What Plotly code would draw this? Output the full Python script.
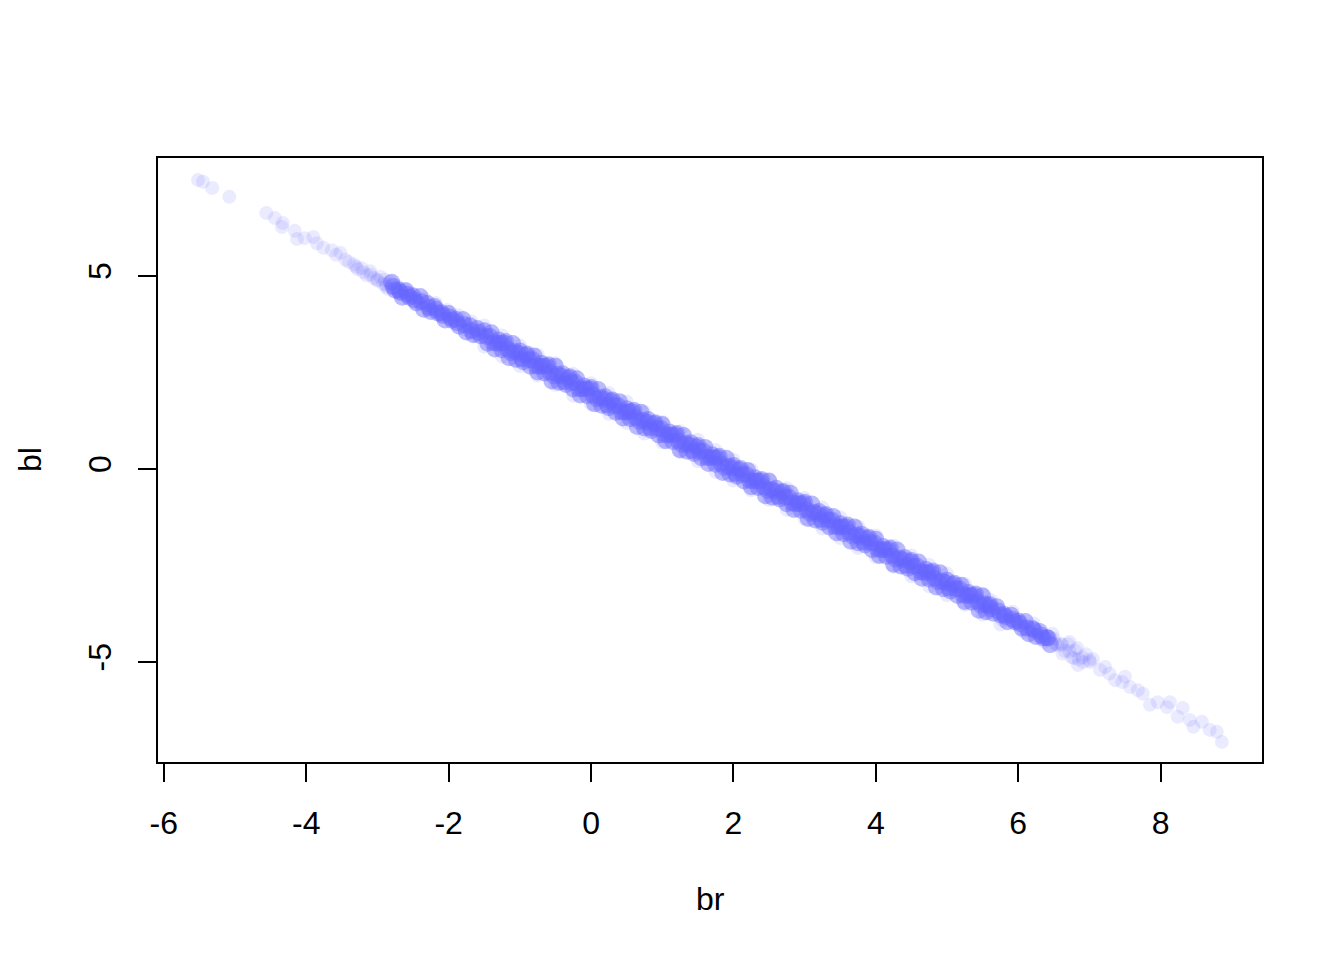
import plotly.graph_objects as go

# Posterior samples: dense core of the ridge
core_br = [
    -2.80, -2.75, -2.70, -2.65, -2.60, -2.55, -2.50, -2.45,
    -2.40, -2.35, -2.30, -2.25, -2.20, -2.15, -2.10, -2.05, -2.00, -1.95,
    -1.90, -1.85, -1.80, -1.75, -1.70, -1.65, -1.60, -1.55,
    -2.78, -2.68, -2.58, -2.48, -2.38, -2.28, -2.18, -2.08, -1.98,
    -1.88, -1.78, -1.68, -1.58,
    -1.50, -1.47, -1.45, -1.42, -1.40, -1.37, -1.35, -1.32, -1.30, -1.27, -1.25, -1.22,
    -1.20, -1.17, -1.15, -1.12, -1.10, -1.07, -1.05, -1.02, -1.00, -0.97, -0.95, -0.92,
    -0.90, -0.87, -0.85, -0.82, -0.80, -0.77, -0.75, -0.72, -0.70, -0.67, -0.65, -0.62,
    -0.60, -0.57, -0.55, -0.52, -0.50, -0.47, -0.45, -0.42, -0.40, -0.37, -0.35, -0.32,
    -0.30, -0.27, -0.25, -0.22, -0.20, -0.17, -0.15, -0.12, -0.10, -0.07, -0.05, -0.02,
    0.00, 0.03, 0.05, 0.08, 0.10, 0.13, 0.15, 0.18, 0.20, 0.23, 0.25, 0.28,
    0.30, 0.33, 0.35, 0.38, 0.40, 0.43, 0.45, 0.48, 0.50, 0.53, 0.55, 0.58,
    0.60, 0.63, 0.65, 0.68, 0.70, 0.73, 0.75, 0.78, 0.80, 0.83, 0.85, 0.88,
    0.90, 0.93, 0.95, 0.98, 1.00, 1.03, 1.05, 1.08, 1.10, 1.13, 1.15, 1.18,
    1.20, 1.23, 1.25, 1.28, 1.30, 1.33, 1.35, 1.38, 1.40, 1.43, 1.45, 1.48,
    1.50, 1.53, 1.55, 1.58, 1.60, 1.63, 1.65, 1.68, 1.70, 1.73, 1.75, 1.78,
    1.80, 1.83, 1.85, 1.88, 1.90, 1.93, 1.95, 1.98, 2.00, 2.03, 2.05, 2.08,
    2.10, 2.13, 2.15, 2.18, 2.20, 2.23, 2.25, 2.28, 2.30, 2.33, 2.35, 2.38,
    2.40, 2.43, 2.45, 2.48, 2.50, 2.53, 2.55, 2.58, 2.60, 2.63, 2.65, 2.68,
    2.70, 2.73, 2.75, 2.78, 2.80, 2.83, 2.85, 2.88, 2.90, 2.93, 2.95, 2.98,
    3.00, 3.03, 3.05, 3.08, 3.10, 3.13, 3.15, 3.18, 3.20, 3.23, 3.25, 3.28,
    3.30, 3.33, 3.35, 3.38, 3.40, 3.43, 3.45, 3.48, 3.50, 3.53, 3.55, 3.58,
    3.60, 3.63, 3.65, 3.68, 3.70, 3.73, 3.75, 3.78, 3.80, 3.83, 3.85, 3.88,
    3.90, 3.93, 3.95, 3.98, 4.00, 4.03, 4.05, 4.08, 4.10, 4.13, 4.15, 4.18,
    4.20, 4.23, 4.25, 4.28, 4.30, 4.33, 4.35, 4.38, 4.40, 4.43, 4.45, 4.48,
    4.50, 4.53, 4.55, 4.58, 4.60, 4.63, 4.65, 4.68, 4.70, 4.73, 4.75, 4.78,
    4.80, 4.83, 4.85, 4.88, 4.90, 4.93, 4.95, 4.98, 5.00, 5.03, 5.05, 5.08,
    5.10, 5.13, 5.15, 5.18, 5.20, 5.23, 5.25, 5.28, 5.30, 5.33, 5.35, 5.38,
    5.40, 5.43, 5.45, 5.48, 5.50, 5.53, 5.55, 5.58,
    5.60, 5.65, 5.70, 5.75, 5.80, 5.85, 5.90, 5.95, 6.00, 6.05,
    6.10, 6.15, 6.20, 6.25, 6.30, 6.35, 6.40, 6.45,
    5.62, 5.72, 5.82, 5.92, 6.02, 6.12, 6.22, 6.32, 6.42,
]
core_bl = [
    4.84, 4.63, 4.64, 4.45, 4.62, 4.45, 4.48, 4.30,
    4.47, 4.14, 4.29, 4.08, 4.21, 4.04, 4.05, 3.86, 4.03, 3.86,
    3.88, 3.70, 3.87, 3.55, 3.71, 3.48, 3.64, 3.45,
    4.73, 4.58, 4.53, 4.38, 4.33, 4.19, 4.14, 3.98, 3.94,
    3.79, 3.74, 3.59, 3.54,
    3.58, 3.43, 3.26, 3.43, 3.53, 3.27, 3.11, 3.26, 3.34, 3.26, 3.09, 3.26,
    3.30, 3.10, 2.88, 3.01, 3.25, 3.04, 2.84, 3.00, 3.06, 2.85, 2.78, 2.95,
    2.98, 2.83, 2.66, 2.83, 2.93, 2.67, 2.51, 2.66, 2.74, 2.66, 2.49, 2.66,
    2.70, 2.50, 2.28, 2.41, 2.66, 2.45, 2.25, 2.41, 2.47, 2.26, 2.19, 2.36,
    2.39, 2.24, 2.07, 2.24, 2.34, 2.08, 1.92, 2.07, 2.15, 2.07, 1.90, 2.07,
    2.11, 1.91, 1.69, 1.82, 2.06, 1.85, 1.65, 1.81, 1.87, 1.66, 1.59, 1.76,
    1.79, 1.64, 1.47, 1.64, 1.74, 1.48, 1.32, 1.47, 1.56, 1.48, 1.31, 1.48,
    1.52, 1.32, 1.10, 1.23, 1.47, 1.26, 1.06, 1.22, 1.28, 1.07, 1.00, 1.17,
    1.20, 1.05, 0.88, 1.05, 1.15, 0.89, 0.73, 0.88, 0.96, 0.88, 0.71, 0.88,
    0.92, 0.72, 0.50, 0.63, 0.87, 0.66, 0.46, 0.62, 0.68, 0.47, 0.40, 0.57,
    0.61, 0.46, 0.29, 0.46, 0.56, 0.30, 0.14, 0.29, 0.37, 0.29, 0.12, 0.29,
    0.33, 0.13, -0.09, 0.04, 0.28, 0.07, -0.13, 0.03, 0.09, -0.12, -0.19, -0.02,
    0.01, -0.14, -0.31, -0.14, -0.04, -0.30, -0.46, -0.31, -0.23, -0.31, -0.48, -0.31,
    -0.27, -0.47, -0.69, -0.56, -0.32, -0.53, -0.73, -0.57, -0.50, -0.71, -0.78, -0.61,
    -0.58, -0.73, -0.90, -0.73, -0.63, -0.89, -1.05, -0.90, -0.82, -0.90, -1.07, -0.90,
    -0.86, -1.06, -1.28, -1.15, -0.91, -1.12, -1.32, -1.16, -1.10, -1.31, -1.38, -1.21,
    -1.18, -1.33, -1.50, -1.33, -1.23, -1.49, -1.65, -1.50, -1.42, -1.50, -1.67, -1.50,
    -1.45, -1.65, -1.87, -1.74, -1.50, -1.71, -1.91, -1.75, -1.69, -1.90, -1.97, -1.80,
    -1.77, -1.92, -2.09, -1.92, -1.82, -2.08, -2.24, -2.09, -2.01, -2.09, -2.26, -2.09,
    -2.05, -2.25, -2.47, -2.34, -2.10, -2.31, -2.51, -2.35, -2.29, -2.50, -2.57, -2.40,
    -2.37, -2.52, -2.69, -2.52, -2.41, -2.67, -2.83, -2.68, -2.60, -2.68, -2.85, -2.68,
    -2.64, -2.84, -3.06, -2.93, -2.69, -2.90, -3.10, -2.94, -2.88, -3.09, -3.16, -2.99,
    -2.96, -3.11, -3.28, -3.11, -3.01, -3.27, -3.43, -3.28, -3.20, -3.28, -3.45, -3.28,
    -3.24, -3.44, -3.66, -3.53, -3.29, -3.50, -3.70, -3.54,
    -3.51, -3.74, -3.57, -3.78, -3.77, -3.96, -3.79, -3.96, -3.94, -4.12,
    -3.95, -4.27, -4.13, -4.34, -4.21, -4.38, -4.37, -4.55,
    -3.62, -3.68, -3.82, -3.89, -4.00, -4.12, -4.17, -4.31, -4.38,
]

# Sparse samples: the two tails and the faint fringe of the ridge
tail_br = [
    -5.52, -5.45, -5.32, -5.08, -4.56, -4.44, -4.33, -4.34, -4.16, -4.13,
    -4.02, -3.90, -3.85, -3.76, -3.64, -3.58, -3.52, -3.45, -3.40, -3.33,
    -3.30, -3.28, -3.22, -3.20, -3.15, -3.10, -3.05, -3.00, -2.96, -2.92,
    -2.88, -2.82, -2.78, -2.72, -2.68, -2.62, -2.58, -2.52, -2.46, -2.40,
    -3.10, -3.00, -2.90, -2.85, -2.88,
    -2.34, -2.28, -2.18, -2.12, -2.02, -1.96, -1.86, -1.78, -1.68, -1.62,
    -1.50, -1.25, -1.00, -0.75, -0.50, -0.25, 0.00, 0.25, 0.50, 0.75,
    1.00, 1.25, 1.50, 1.75, 2.00, 2.25, 2.50, 2.75, 3.00, 3.25,
    3.50, 3.75, 4.00, 4.25, 4.50, 4.75, 5.00, 5.25, 5.50, 5.75,
    -1.25, -0.75, -0.25, 0.25, 0.75, 1.25, 1.75, 2.25, 2.75, 3.25,
    3.75, 4.25, 4.75, 5.25,
    -1.50, -1.00, -0.50, 0.00, 0.50, 1.00, 1.50, 2.00, 2.50, 3.00,
    3.50, 4.00, 4.50, 5.00, 5.50,
    5.62, 5.78, 5.92, 6.08, 6.22, 6.36, 6.48, 6.62, 6.72, 6.78,
    6.50, 6.55, 6.60, 6.65, 6.70, 6.75, 6.52, 6.62, 6.72,
    6.80, 6.85, 6.90, 7.00,
    6.83, 6.84, 6.91, 6.95, 7.01, 7.05, 7.15, 7.22, 7.28, 7.36,
    7.46, 7.50, 7.57, 7.68, 7.75, 7.85, 7.96, 8.09, 8.13, 8.24,
    8.31, 8.41, 8.46, 8.58, 8.69, 8.79, 8.86,
]
tail_bl = [
    7.49, 7.44, 7.28, 7.05, 6.63, 6.50, 6.37, 6.27, 6.17, 5.96,
    5.98, 6.01, 5.85, 5.73, 5.67, 5.55, 5.60, 5.42, 5.36, 5.30,
    5.24, 5.18, 5.20, 5.10, 5.02, 5.12, 4.95, 4.90, 4.98, 4.80,
    4.72, 4.85, 4.68, 4.74, 4.55, 4.66, 4.48, 4.55, 4.38, 4.30,
    5.04, 4.88, 4.90, 4.67, 4.78,
    4.42, 4.12, 4.30, 3.98, 4.12, 3.80, 3.98, 3.62, 3.82, 3.45,
    3.72, 2.91, 3.20, 2.42, 2.74, 1.90, 2.22, 1.43, 1.75, 0.92,
    1.22, 0.44, 0.76, -0.07, 0.24, -0.55, -0.26, -1.06, -0.75, -1.54,
    -1.25, -2.05, -1.72, -2.53, -2.24, -3.04, -2.71, -3.52, -3.23, -4.03,
    3.46, 2.96, 2.47, 1.97, 1.48, 0.98, 0.49, -0.01, -0.50, -1.00,
    -1.49, -1.99, -2.48, -2.98,
    3.17, 2.67, 2.18, 1.68, 1.19, 0.69, 0.20, -0.30, -0.80, -1.29,
    -1.79, -2.28, -2.78, -3.27, -3.77,
    -3.40, -3.92, -3.70, -4.22, -4.00, -4.48, -4.27, -4.78, -4.48, -4.90,
    -4.39, -4.56, -4.53, -4.71, -4.54, -4.87, -4.52, -4.56, -4.72,
    -4.70, -4.93, -4.88, -4.95,
    -4.64, -5.08, -5.00, -4.80, -5.00, -4.92, -5.21, -5.13, -5.30, -5.47,
    -5.52, -5.38, -5.65, -5.73, -5.82, -6.11, -6.04, -6.17, -6.04, -6.42,
    -6.19, -6.50, -6.68, -6.55, -6.76, -6.81, -7.07,
]

x_ticks = [-6, -4, -2, 0, 2, 4, 6, 8]
y_ticks = [-5, 0, 5]

FONT = "Liberation Sans, Arial, Helvetica, sans-serif"
FS = 32

fig = go.Figure()
fig.add_trace(go.Scatter(
    x=tail_br, y=tail_bl, mode="markers",
    marker=dict(size=14, color="rgba(102,102,255,0.13)", line=dict(width=0)),
    hoverinfo="skip", showlegend=False,
))
fig.add_trace(go.Scatter(
    x=core_br, y=core_bl, mode="markers",
    marker=dict(size=17, color="rgba(102,102,255,0.45)", line=dict(width=0)),
    hoverinfo="skip", showlegend=False,
))

fig.update_layout(
    width=1344, height=960,
    margin=dict(l=149, r=89, t=149, b=205),
    paper_bgcolor="white", plot_bgcolor="white",
    font=dict(family=FONT, size=FS, color="black"),
    xaxis=dict(
        range=[-6.096, 9.438], tickvals=x_ticks, ticktext=[str(v) for v in x_ticks],
        showgrid=False, zeroline=False, showline=False,
        ticks="outside", ticklen=18, tickwidth=2, tickcolor="black",
        ticklabelstandoff=14, tickfont=dict(size=FS, family=FONT),
    ),
    yaxis=dict(
        range=[-7.617, 8.083], tickvals=y_ticks, ticktext=[str(v) for v in y_ticks],
        showgrid=False, zeroline=False, showline=False,
        ticks="outside", ticklen=18, tickwidth=2, tickcolor="black",
        tickangle=-90, ticklabelstandoff=14, tickfont=dict(size=FS, family=FONT),
    ),
    shapes=[dict(type="rect", xref="paper", yref="paper", x0=0, y0=0, x1=1, y1=1,
                 line=dict(color="black", width=2), fillcolor="rgba(0,0,0,0)", layer="above")],
    annotations=[
        dict(text="br", xref="paper", yref="paper", x=0.5, y=-0.2244, showarrow=False,
             xanchor="center", yanchor="middle", font=dict(size=FS, family=FONT)),
        dict(text="bl", xref="paper", yref="paper", x=-0.1148, y=0.5, showarrow=False,
             textangle=-90, xanchor="center", yanchor="middle", font=dict(size=FS, family=FONT)),
    ],
)

fig.write_html("out.html")
